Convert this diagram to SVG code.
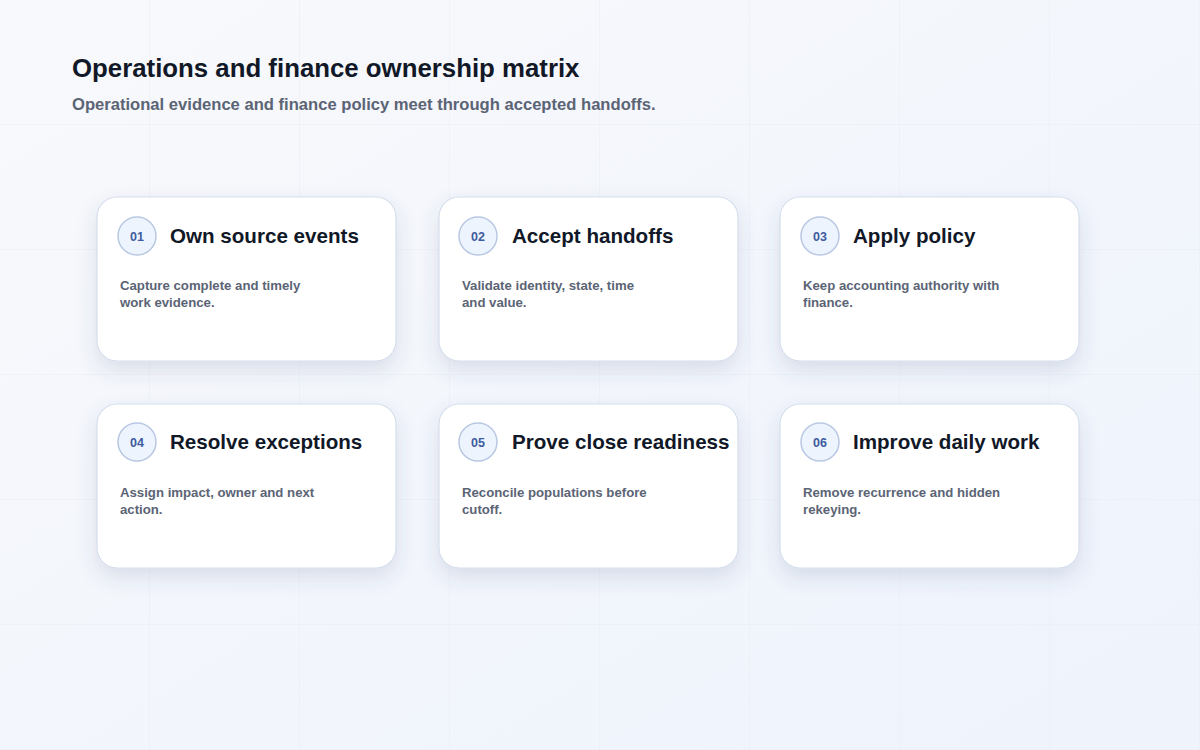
<svg xmlns="http://www.w3.org/2000/svg" width="1200" height="750" viewBox="0 0 1200 750">
  <defs>
    <linearGradient id="bg" x1="0" y1="0" x2="1" y2="1">
      <stop offset="0" stop-color="#f8f9fc"/>
      <stop offset="1" stop-color="#eef3fc"/>
    </linearGradient>
    <filter id="shadow" x="-20%" y="-20%" width="140%" height="160%">
      <feDropShadow dx="0" dy="9" stdDeviation="10" flood-color="#42537e" flood-opacity="0.15"/>
    </filter>
    <pattern id="grid" width="150" height="125" patternUnits="userSpaceOnUse">
      <path d="M150 0 V125 M0 125 H150" fill="none" stroke="#e8ecf3" stroke-width="1"/>
    </pattern>
  </defs>
  <style>
    .card { fill: #ffffff; stroke: #d5deec; stroke-width: 1.2; }
    .badge { fill: #eef4fd; stroke: #b8c8e3; stroke-width: 1.5; }
    .num { font-family: "Liberation Sans", Arial, sans-serif; font-size: 12.5px; font-weight: bold; fill: #3d5b9e; text-anchor: middle; }
    .ttl { font-family: "Liberation Sans", Arial, sans-serif; font-size: 20.6px; font-weight: bold; fill: #111827; }
    .desc { font-family: "Liberation Sans", Arial, sans-serif; font-size: 13.2px; font-weight: bold; fill: #5b6475; }
    .h1 { font-family: "Liberation Sans", Arial, sans-serif; font-size: 25.8px; font-weight: bold; fill: #111827; }
    .h2 { font-family: "Liberation Sans", Arial, sans-serif; font-size: 16.6px; font-weight: bold; fill: #5b6475; }
  </style>
  <rect width="1200" height="750" fill="url(#bg)"/>
  <rect width="1200" height="750" fill="url(#grid)"/>

  <text class="h1" x="72" y="77">Operations and finance ownership matrix</text>
  <text class="h2" x="72" y="110">Operational evidence and finance policy meet through accepted handoffs.</text>

  <g id="connectors"></g>

  <g id="node-01">
    <rect class="card" x="97" y="197" width="299" height="164" rx="20" filter="url(#shadow)"/>
    <circle class="badge" cx="137" cy="236" r="19"/>
    <text class="num" x="137" y="241">01</text>
    <text class="ttl" x="170" y="243">Own source events</text>
    <text class="desc" x="120" y="290">Capture complete and timely</text>
    <text class="desc" x="120" y="307">work evidence.</text>
  </g>
  <g id="node-02">
    <rect class="card" x="439" y="197" width="299" height="164" rx="20" filter="url(#shadow)"/>
    <circle class="badge" cx="478" cy="236" r="19"/>
    <text class="num" x="478" y="241">02</text>
    <text class="ttl" x="512" y="243">Accept handoffs</text>
    <text class="desc" x="462" y="290">Validate identity, state, time</text>
    <text class="desc" x="462" y="307">and value.</text>
  </g>
  <g id="node-03">
    <rect class="card" x="780" y="197" width="299" height="164" rx="20" filter="url(#shadow)"/>
    <circle class="badge" cx="820" cy="236" r="19"/>
    <text class="num" x="820" y="241">03</text>
    <text class="ttl" x="853" y="243">Apply policy</text>
    <text class="desc" x="803" y="290">Keep accounting authority with</text>
    <text class="desc" x="803" y="307">finance.</text>
  </g>
  <g id="node-04">
    <rect class="card" x="97" y="404" width="299" height="164" rx="20" filter="url(#shadow)"/>
    <circle class="badge" cx="137" cy="442" r="19"/>
    <text class="num" x="137" y="447">04</text>
    <text class="ttl" x="170" y="449">Resolve exceptions</text>
    <text class="desc" x="120" y="497">Assign impact, owner and next</text>
    <text class="desc" x="120" y="514">action.</text>
  </g>
  <g id="node-05">
    <rect class="card" x="439" y="404" width="299" height="164" rx="20" filter="url(#shadow)"/>
    <circle class="badge" cx="478" cy="442" r="19"/>
    <text class="num" x="478" y="447">05</text>
    <text class="ttl" x="512" y="449">Prove close readiness</text>
    <text class="desc" x="462" y="497">Reconcile populations before</text>
    <text class="desc" x="462" y="514">cutoff.</text>
  </g>
  <g id="node-06">
    <rect class="card" x="780" y="404" width="299" height="164" rx="20" filter="url(#shadow)"/>
    <circle class="badge" cx="820" cy="442" r="19"/>
    <text class="num" x="820" y="447">06</text>
    <text class="ttl" x="853" y="449">Improve daily work</text>
    <text class="desc" x="803" y="497">Remove recurrence and hidden</text>
    <text class="desc" x="803" y="514">rekeying.</text>
  </g>
</svg>
